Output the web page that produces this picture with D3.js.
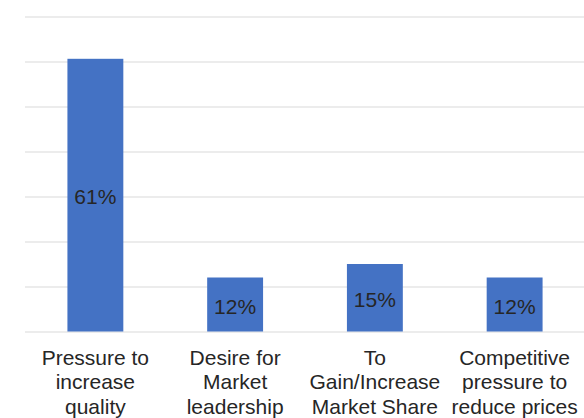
<!DOCTYPE html>
<html>
<head>
<meta charset="utf-8">
<script src="https://cdn.jsdelivr.net/npm/d3@7"></script>
<style>
  html, body { margin: 0; padding: 0; background: #fff; }
  svg { display: block; }
</style>
</head>
<body>
<div id="chart"></div>
<script>
const categories = [
  ["Pressure to", "increase", "quality"],
  ["Desire for", "Market", "leadership"],
  ["To", "Gain/Increase", "Market Share"],
  ["Competitive", "pressure to", "reduce prices"]
];
const values = [0.606, 0.12, 0.15, 0.12];
const yTicks = [0, 0.1, 0.2, 0.3, 0.4, 0.5, 0.6, 0.7];

(function() {
const W = 584, H = 418;
const mLeft = 25.5, mRight = 584.5, mTop = 16.5, mBottom = 331.5;
const font = "'Liberation Sans', Arial, sans-serif";

const svg = d3.select("#chart").append("svg")
  .attr("width", W).attr("height", H);

const keys = categories.map((c, i) => i);
const x = d3.scaleBand().domain(keys).range([mLeft, mRight])
  .paddingInner(0.6).paddingOuter(0.3);
const y = d3.scaleLinear().domain([0, 0.7]).range([mBottom, mTop]);

// gridlines
const grid = svg.append("g")
  .attr("transform", `translate(${mLeft - 0.5},0)`)
  .call(d3.axisLeft(y).tickValues(yTicks).tickFormat("").tickSize(-(W - mLeft + 0.5)).tickSizeOuter(0));
grid.select(".domain").remove();
grid.selectAll(".tick line").attr("stroke", "#d9d9d9").attr("stroke-width", 1);

// bars
svg.append("g").selectAll("rect")
  .data(values)
  .join("rect")
  .attr("x", (d, i) => x(i))
  .attr("width", x.bandwidth())
  .attr("y", d => y(d))
  .attr("height", d => y(0) - y(d))
  .attr("fill", "#4472C4");

// data labels
svg.append("g").selectAll("text")
  .data(values)
  .join("text")
  .attr("x", (d, i) => x(i) + x.bandwidth() / 2)
  .attr("y", d => (y(d) + y(0)) / 2 + 9)
  .attr("text-anchor", "middle")
  .attr("font-family", font)
  .attr("font-size", 21)
  .attr("fill", "#262626")
  .text(d => Math.round(d * 100) + "%");

// category axis
const xAxis = svg.append("g")
  .attr("transform", `translate(0,${mBottom})`)
  .call(d3.axisBottom(x).tickSize(0).tickFormat(""));
xAxis.select(".domain").remove();

const labels = svg.append("g").selectAll("text")
  .data(categories)
  .join("text")
  .attr("text-anchor", "middle")
  .attr("font-family", font)
  .attr("font-size", 21)
  .attr("fill", "#262626");
labels.each(function(lines, i) {
  const t = d3.select(this);
  lines.forEach((ln, j) => {
    t.append("tspan")
      .attr("x", x(i) + x.bandwidth() / 2)
      .attr("y", 364.5 + j * 24.5)
      .text(ln);
  });
});
})();
</script>
</body>
</html>
